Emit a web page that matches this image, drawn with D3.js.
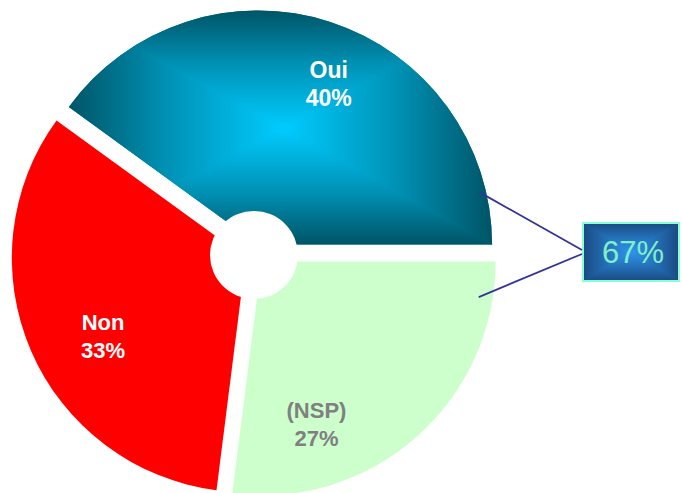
<!DOCTYPE html>
<html>
<head>
<meta charset="utf-8">
<script src="https://cdn.jsdelivr.net/npm/d3@7"></script>
<style>
  html, body { margin: 0; padding: 0; background: #fff; }
  svg { display: block; }
</style>
</head>
<body>
<div id="chart"></div>
<script>
// data
const categories = ["Oui", "(NSP)", "Non"];
const values = [40, 27, 33];              // percent
const calloutParts = ["Oui", "(NSP)"];    // summed in the box (67%)

// style / layout
const width = 682, height = 493;
const cx = 255, cy = 254, R = 234;
const explode = 10;
const holeR = 44;
const fills = ["url(#ouiGrad)", "#ccffcc", "#ff0000"];
const labelColors = ["#ffffff", "#808080", "#ffffff"];
const labelFont = [23, 22, 22];
// label block centre, polar from each slice's tip: angle (deg, clockwise from north), radius
const labelPolar = [[23.8, 175], [161.4, 172], [241.1, 163]];
// callout anchor points on slices: [slice index, angle, radius]
const calloutAnchors = [[0, 76.6, 227], [1, 99.3, 220]];
const box = { x: 583, y: 223, w: 96, h: 58 };

const rad = d => d * Math.PI / 180;
const polar = (a, r) => [r * Math.sin(rad(a)), -r * Math.cos(rad(a))];

const svg = d3.select("#chart").append("svg")
    .attr("width", width)
    .attr("height", height)
    .attr("font-family", "'Liberation Sans', Arial, sans-serif");

const defs = svg.append("defs");

// rectangular "path" gradient made of four triangles (like the office fill)
function boxFill(g, x0, y0, x1, y1, mx, my, stops, id) {
  const sides = [
    { pts: [[x0, y0], [x1, y0], [mx, my]], g: [mx, y0, mx, my] },
    { pts: [[x1, y0], [x1, y1], [mx, my]], g: [x1, my, mx, my] },
    { pts: [[x1, y1], [x0, y1], [mx, my]], g: [mx, y1, mx, my] },
    { pts: [[x0, y1], [x0, y0], [mx, my]], g: [x0, my, mx, my] }
  ];
  g.append("rect").attr("x", x0).attr("y", y0)
      .attr("width", x1 - x0).attr("height", y1 - y0)
      .attr("fill", stops[1][1]);
  sides.forEach((s, i) => {
    const lg = defs.append("linearGradient")
        .attr("id", `${id}-${i}`)
        .attr("gradientUnits", "userSpaceOnUse")
        .attr("x1", s.g[0]).attr("y1", s.g[1])
        .attr("x2", s.g[2]).attr("y2", s.g[3]);
    stops.forEach(([o, c]) => lg.append("stop").attr("offset", o).attr("stop-color", c));
    g.append("path")
        .attr("d", d3.line()(s.pts) + "Z")
        .attr("fill", `url(#${id}-${i})`)
        .attr("stroke", `url(#${id}-${i})`)
        .attr("stroke-width", 0.6);
  });
}

const pie = d3.pie().sort(null)
    .startAngle(Math.PI / 2 - 2 * Math.PI * values[0] / d3.sum(values))
    .endAngle(Math.PI / 2 - 2 * Math.PI * values[0] / d3.sum(values) + 2 * Math.PI);
const arcs = pie(values);
const arc = d3.arc().innerRadius(0).outerRadius(R);

// slice tip positions after exploding
const tips = arcs.map(a => {
  const mid = (a.startAngle + a.endAngle) / 2;
  return [cx + explode * Math.sin(mid), cy - explode * Math.cos(mid)];
});

const slices = svg.append("g");

arcs.forEach((a, i) => {
  const [tx, ty] = tips[i];
  if (i === 0) {
    // Oui: clipped box gradient
    defs.append("clipPath").attr("id", "ouiClip")
      .append("path")
        .attr("transform", `translate(${tx},${ty})`)
        .attr("d", arc(a));
    const b = { x0: tx + R * Math.sin(a.startAngle) - 2, x1: tx + R + 1, y0: ty - R - 1, y1: ty + 1 };
    const g = slices.append("g").attr("clip-path", "url(#ouiClip)");
    boxFill(g, b.x0, b.y0, b.x1, b.y1, tx + 26, ty - 116,
            [[0, "#005365"], [0.45, "#0090b3"], [1, "#00ccff"]], "oui");
  } else {
    slices.append("path")
        .attr("transform", `translate(${tx},${ty})`)
        .attr("d", arc(a))
        .attr("fill", fills[i]);
  }
});

// white hub
svg.append("circle")
    .attr("cx", cx - 1).attr("cy", cy + 1)
    .attr("r", holeR)
    .attr("fill", "#fff");

// labels
const labels = svg.append("g")
    .attr("font-weight", "bold")
    .attr("text-anchor", "middle");

arcs.forEach((a, i) => {
  const [tx, ty] = tips[i];
  const [dx, dy] = polar(labelPolar[i][0], labelPolar[i][1]);
  const fs = labelFont[i], lh = 28;
  const y1 = ty + dy - lh / 2 + 0.35 * fs;
  const t = labels.append("text")
      .attr("fill", labelColors[i])
      .attr("font-size", fs);
  t.append("tspan").attr("x", tx + dx).attr("y", y1).text(categories[i]);
  t.append("tspan").attr("x", tx + dx).attr("y", y1 + lh).text(`${values[i]}%`);
});

// callout box
const calloutValue = d3.sum(calloutParts, c => values[categories.indexOf(c)]);
const boxG = svg.append("g");
boxFill(boxG, box.x, box.y, box.x + box.w, box.y + box.h,
        box.x + box.w / 2, box.y + box.h / 2,
        [[0, "#1a4a82"], [0.5, "#2470b8"], [1, "#2f95ee"]], "box");
boxG.append("rect")
    .attr("x", box.x).attr("y", box.y)
    .attr("width", box.w).attr("height", box.h)
    .attr("fill", "none")
    .attr("stroke", "#8affd2")
    .attr("stroke-width", 2);
boxG.append("text")
    .attr("x", box.x + box.w / 2 + 2)
    .attr("y", box.y + box.h / 2 + 11)
    .attr("text-anchor", "middle")
    .attr("font-size", 31)
    .attr("fill", "#80f0c8")
    .text(`${calloutValue}%`);

// leader lines
const lines = svg.append("g")
    .attr("stroke", "#333399")
    .attr("stroke-width", 1.8)
    .attr("fill", "none");
calloutAnchors.forEach(([i, ang, r], k) => {
  const [dx, dy] = polar(ang, r);
  lines.append("line")
      .attr("x1", tips[i][0] + dx).attr("y1", tips[i][1] + dy)
      .attr("x2", box.x - 1).attr("y2", box.y + box.h / 2 + (k ? 2 : -2));
});
</script>
</body>
</html>
